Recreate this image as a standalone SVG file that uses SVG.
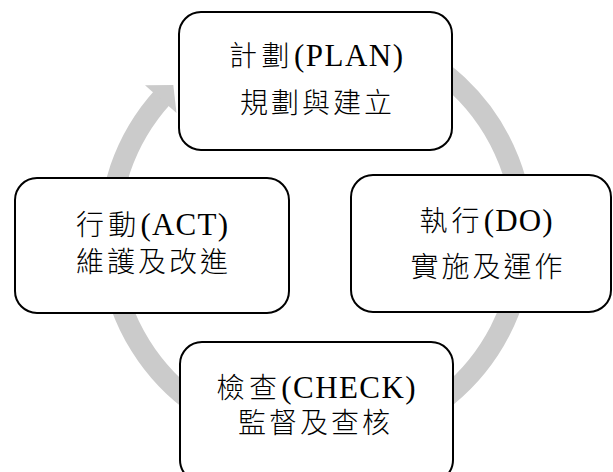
<svg xmlns="http://www.w3.org/2000/svg" width="613" height="472" viewBox="0 0 613 472">
  <style>
    .ring { fill: none; stroke: #cbcbcb; stroke-width: 21; }
    .head { fill: #cbcbcb; stroke: none; }
    .box { fill: #ffffff; stroke: #000000; stroke-width: 2; }
    .t { font-family: 'Liberation Serif', 'Noto Sans CJK TC', serif; font-size: 31px; text-anchor: middle; fill: #000000; font-weight: 300; }
    .c { font-family: 'Noto Sans CJK TC', sans-serif; font-size: 28px; letter-spacing: 3px; font-weight: 300; }
  </style>
  <rect x="0" y="0" width="613" height="472" fill="#ffffff"/>
  <g id="connectors">
    <path class="ring" d="M 386.8 41.5 A 207 207 0 1 1 162.7 97.0"/>
    <polygon class="head" points="145,85.2 173.3,84.9 176.5,113"/>
  </g>
  <g id="node-plan">
    <rect class="box" x="179" y="12" width="273" height="138" rx="22" ry="22"/>
    <text class="t" x="316" y="66" textLength="174" lengthAdjust="spacing"><tspan class="c">計劃</tspan>(PLAN)</text>
    <text class="t c" x="317.5" y="113">規劃與建立</text>
  </g>
  <g id="node-do">
    <rect class="box" x="351" y="175" width="260" height="137" rx="22" ry="22"/>
    <text class="t" x="486" y="231" textLength="133" lengthAdjust="spacing"><tspan class="c">執行</tspan>(DO)</text>
    <text class="t c" x="488" y="277">實施及運作</text>
  </g>
  <g id="node-check">
    <rect class="box" x="180" y="342" width="273" height="140" rx="22" ry="22"/>
    <text class="t" x="316" y="398" textLength="199" lengthAdjust="spacing"><tspan class="c">檢查</tspan>(CHECK)</text>
    <text class="t c" x="315.5" y="433">監督及查核</text>
  </g>
  <g id="node-act">
    <rect class="box" x="15" y="178" width="274" height="135" rx="22" ry="22"/>
    <text class="t" x="152" y="235" textLength="152" lengthAdjust="spacing"><tspan class="c">行動</tspan>(ACT)</text>
    <text class="t c" x="153.5" y="272">維護及改進</text>
  </g>
</svg>
